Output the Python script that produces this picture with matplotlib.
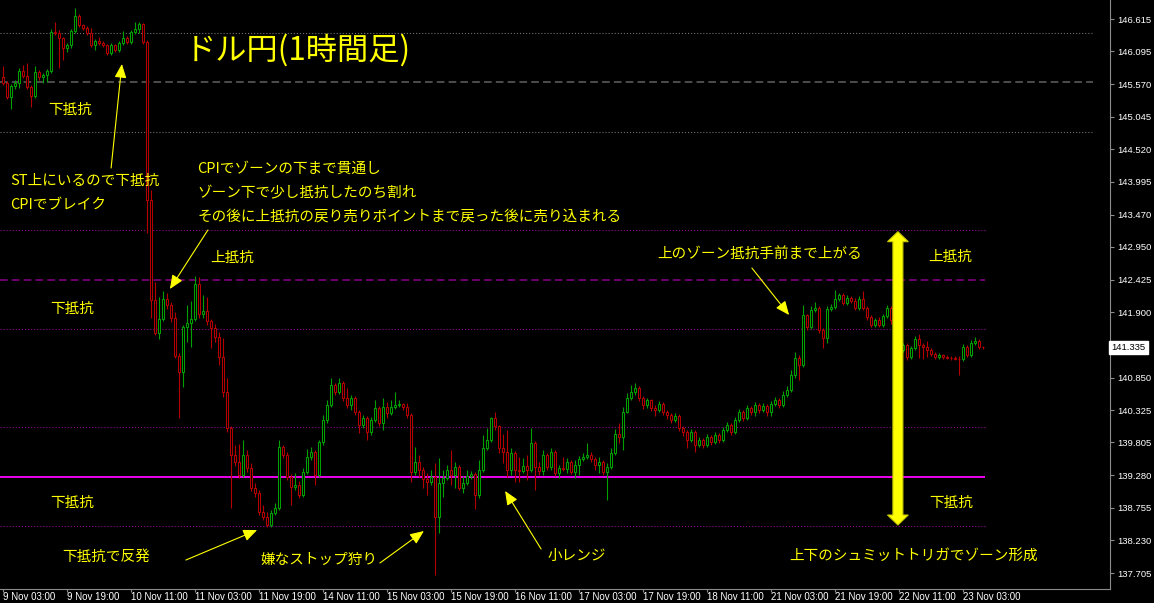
import matplotlib
matplotlib.use("Agg")
import matplotlib.pyplot as plt
from matplotlib.patches import Rectangle, Polygon
from matplotlib.transforms import blended_transform_factory

plt.rcParams['font.family'] = ['Noto Sans CJK JP', 'DejaVu Sans']
plt.rcParams['lines.scale_dashes'] = False

# ---------------- data (USD/JPY, 1 hour) ----------------
time_labels = ["9 Nov 03:00", "9 Nov 19:00", "10 Nov 11:00", "11 Nov 03:00",
               "11 Nov 19:00", "14 Nov 11:00", "15 Nov 03:00", "15 Nov 19:00",
               "16 Nov 11:00", "17 Nov 03:00", "17 Nov 19:00", "18 Nov 11:00",
               "21 Nov 03:00", "21 Nov 19:00", "22 Nov 11:00", "23 Nov 03:00"]
label_every = 16

first_open = 145.68
close = [
    145.59, 145.36, 145.54, 145.59, 145.78, 145.70, 145.52, 145.38, 145.76, 145.68,
    145.71, 145.78, 146.41, 146.39, 146.31, 146.15, 146.20, 146.42, 146.66, 146.52,
    146.47, 146.39, 146.20, 146.26, 146.23, 146.20, 146.07, 146.20, 146.12, 146.23,
    146.31, 146.25, 146.41, 146.45, 146.54, 146.25, 143.70, 142.10, 141.57, 141.79,
    142.11, 142.02, 141.81, 141.20, 140.94, 141.66, 141.73, 141.79, 142.35, 141.87,
    141.92, 141.76, 141.65, 141.50, 141.18, 140.62, 140.04, 139.60, 139.49, 139.28,
    139.60, 139.39, 139.07, 138.99, 138.69, 138.61, 138.48, 138.67, 138.75, 139.73,
    139.60, 139.25, 139.09, 139.12, 138.96, 139.33, 139.57, 139.65, 139.28, 139.81,
    140.17, 140.41, 140.73, 140.62, 140.76, 140.52, 140.41, 140.52, 140.29, 140.09,
    140.20, 139.97, 140.17, 140.36, 140.12, 140.38, 140.28, 140.38, 140.41, 140.42,
    140.38, 140.25, 139.33, 139.49, 139.36, 139.22, 139.17, 139.25, 138.61, 139.15,
    139.23, 139.36, 139.28, 139.41, 139.07, 139.15, 139.27, 139.30, 138.96, 139.36,
    139.72, 139.84, 140.20, 140.07, 139.72, 139.65, 139.36, 139.64, 139.36, 139.35,
    139.43, 139.36, 139.80, 139.41, 139.35, 139.60, 139.41, 139.65, 139.31, 139.39,
    139.38, 139.49, 139.33, 139.44, 139.54, 139.57, 139.60, 139.54, 139.44, 139.49,
    139.33, 139.41, 139.64, 139.94, 139.89, 140.30, 140.52, 140.62, 140.68, 140.52,
    140.41, 140.49, 140.36, 140.33, 140.42, 140.29, 140.25, 140.17, 140.23, 140.04,
    139.97, 139.84, 139.97, 139.76, 139.84, 139.76, 139.89, 139.81, 139.92, 139.84,
    140.00, 140.09, 139.97, 140.17, 140.29, 140.20, 140.36, 140.29, 140.41, 140.33,
    140.39, 140.29, 140.42, 140.49, 140.41, 140.57, 140.65, 140.89, 141.16, 141.05,
    141.85, 141.66, 141.94, 141.97, 141.61, 141.48, 141.95, 141.98, 142.11, 142.18,
    142.05, 142.13, 142.08, 141.97, 142.11, 141.97, 141.82, 141.69, 141.77, 141.69,
    141.84, 141.97, 141.77, 141.53, 141.29, 141.37, 141.18, 141.32, 141.47, 141.37,
    141.34, 141.29, 141.23, 141.18, 141.21, 141.18, 141.17, 141.16, 141.15, 141.14,
    141.34, 141.21, 141.40, 141.44, 141.34, 141.335]
high = [
    145.86, 145.62, 145.57, 145.63, 145.83, 145.88, 145.91, 145.55, 145.86, 145.80,
    145.75, 145.81, 146.45, 146.57, 146.44, 146.33, 146.23, 146.45, 146.79, 146.70,
    146.54, 146.50, 146.47, 146.29, 146.33, 146.26, 146.21, 146.23, 146.21, 146.26,
    146.42, 146.34, 146.44, 146.57, 146.57, 146.55, 146.28, 143.87, 142.39, 142.14,
    142.24, 142.21, 142.06, 141.90, 141.24, 141.69, 142.02, 142.08, 142.48, 142.47,
    142.18, 142.15, 141.79, 141.71, 141.58, 141.49, 140.84, 140.07, 139.76, 139.78,
    139.84, 139.68, 139.47, 139.15, 139.04, 138.80, 138.69, 138.72, 138.83, 139.84,
    139.76, 139.65, 139.30, 139.31, 139.19, 139.39, 139.70, 139.73, 139.68, 139.84,
    140.25, 140.49, 140.84, 140.76, 140.84, 140.79, 140.68, 140.57, 140.55, 140.33,
    140.25, 140.23, 140.22, 140.49, 140.39, 140.52, 140.46, 140.49, 140.62, 140.49,
    140.44, 140.44, 140.28, 139.73, 139.60, 139.41, 139.31, 139.36, 139.47, 139.55,
    139.36, 139.44, 139.68, 139.49, 139.44, 139.27, 139.36, 139.35, 139.33, 139.52,
    139.92, 140.04, 140.22, 140.30, 140.09, 139.94, 140.00, 139.72, 139.67, 139.57,
    139.56, 139.60, 140.04, 139.83, 139.49, 139.68, 139.64, 139.72, 139.68, 139.44,
    139.57, 139.55, 139.52, 139.52, 139.59, 139.64, 139.80, 139.65, 139.57, 139.57,
    139.52, 139.47, 139.72, 140.02, 140.12, 140.38, 140.60, 140.73, 140.76, 140.71,
    140.55, 140.52, 140.50, 140.41, 140.47, 140.46, 140.33, 140.28, 140.28, 140.26,
    140.07, 140.00, 140.02, 140.00, 139.89, 139.88, 139.94, 139.92, 139.97, 139.96,
    140.05, 140.14, 140.12, 140.22, 140.34, 140.33, 140.41, 140.39, 140.46, 140.44,
    140.44, 140.42, 140.47, 140.54, 140.52, 140.63, 140.71, 140.97, 141.26, 141.21,
    142.02, 141.87, 142.00, 142.06, 142.00, 141.65, 142.00, 142.03, 142.26, 142.21,
    142.21, 142.18, 142.16, 142.13, 142.16, 142.24, 142.00, 141.85, 141.81, 141.82,
    141.87, 142.02, 142.00, 141.81, 141.56, 141.40, 141.40, 141.36, 141.52, 141.55,
    141.40, 141.44, 141.32, 141.26, 141.24, 141.23, 141.21, 141.19, 141.19, 141.19,
    141.39, 141.37, 141.45, 141.50, 141.47, 141.36]
low = [
    145.55, 145.33, 145.17, 145.49, 145.51, 145.67, 145.49, 145.20, 145.34, 145.63,
    145.59, 145.60, 145.75, 146.36, 145.83, 145.96, 146.08, 146.15, 146.39, 146.49,
    146.44, 146.36, 146.16, 146.12, 146.20, 146.16, 146.04, 146.04, 146.08, 146.08,
    146.20, 146.21, 146.21, 146.37, 146.39, 146.21, 143.17, 141.81, 141.53, 141.47,
    141.76, 141.95, 141.74, 141.16, 140.20, 140.70, 141.42, 141.34, 141.76, 141.81,
    141.81, 141.69, 141.32, 141.42, 141.05, 140.54, 139.97, 138.75, 139.43, 139.23,
    139.25, 139.33, 139.02, 138.93, 138.64, 138.56, 138.45, 138.45, 138.64, 138.72,
    139.56, 139.20, 138.80, 139.04, 138.91, 138.93, 139.30, 139.52, 139.12, 139.25,
    139.76, 140.12, 140.38, 140.57, 140.58, 140.47, 140.36, 140.33, 140.25, 139.96,
    140.04, 139.84, 139.92, 140.14, 140.07, 140.00, 140.20, 140.25, 140.34, 140.38,
    140.33, 140.20, 139.17, 139.28, 139.25, 139.07, 138.96, 139.12, 137.67, 138.35,
    138.93, 139.20, 139.12, 139.07, 139.04, 138.99, 139.12, 139.22, 138.73, 138.91,
    139.33, 139.68, 139.81, 140.00, 139.64, 139.47, 139.25, 139.28, 139.17, 139.17,
    139.31, 139.20, 139.33, 139.04, 139.28, 139.28, 139.36, 139.36, 139.27, 139.23,
    139.35, 139.31, 139.30, 139.23, 139.28, 139.51, 139.54, 139.49, 139.36, 139.31,
    139.28, 138.88, 139.38, 139.60, 139.80, 139.68, 140.28, 140.49, 140.57, 140.47,
    140.34, 140.36, 140.31, 140.23, 140.29, 140.25, 140.18, 140.12, 140.14, 139.99,
    139.91, 139.72, 139.81, 139.65, 139.73, 139.72, 139.73, 139.76, 139.78, 139.80,
    139.81, 139.97, 139.92, 139.94, 140.14, 140.15, 140.17, 140.25, 140.23, 140.28,
    140.29, 140.23, 140.23, 140.39, 140.36, 140.38, 140.54, 140.62, 140.84, 140.81,
    141.02, 141.61, 141.63, 141.90, 141.56, 141.32, 141.40, 141.92, 141.95, 142.08,
    142.02, 142.02, 142.05, 141.94, 141.94, 141.94, 141.77, 141.66, 141.66, 141.66,
    141.66, 141.81, 141.71, 141.49, 141.24, 141.26, 141.13, 141.15, 141.29, 141.16,
    141.15, 141.18, 141.20, 141.15, 141.15, 141.15, 141.15, 141.13, 141.13, 140.89,
    141.11, 141.18, 141.18, 141.37, 141.31, 141.31]
opens = [first_open] + close[:-1]

price_ticks = [146.615, 146.095, 145.570, 145.045, 144.520, 143.995, 143.470,
               142.950, 142.425, 141.900, 140.850, 140.325, 139.805, 139.280,
               138.755, 138.230, 137.705]
current_price = 141.335

# zone lines (price levels)
gray_dotted = [146.39, 144.80]
gray_dashed = [145.60]
purple_dotted = [143.215, 141.63, 140.05, 138.46]
purple_dashed = [142.42]
magenta_solid = [139.25]
zone_top, zone_bottom = 143.195, 138.478

# ---------------- figure ----------------
W, H = 1154, 603
fig = plt.figure(figsize=(W / 100, H / 100), dpi=100, facecolor="black")
ax = fig.add_axes([0, 14 / H, 1110 / W, 589 / H])
ax.set_facecolor("black")

bar_px = 4.0
x0_px = 2.7
ax.set_xlim(-x0_px / bar_px, (1110 - x0_px) / bar_px)
ppx = 0.016082
ax.set_ylim(146.921 - 589 * ppx, 146.921)

n = len(close)
assert len(high) == n and len(low) == n
last_x = n - 1 + 0.5

# zone lines
for lv in gray_dotted:
    ax.hlines(lv, ax.get_xlim()[0], 272.5, colors="#707070", lw=0.8,
              linestyles=(0, (0.8, 1.4)), zorder=1)
for lv in gray_dashed:
    ax.hlines(lv, ax.get_xlim()[0], 272.5, colors="#5a5a5a", lw=1.2,
              linestyles=(0, (5.5, 3)), zorder=1)
for lv in purple_dotted:
    ax.hlines(lv, ax.get_xlim()[0], last_x, colors="#8a0a8a", lw=0.8,
              linestyles=(0, (0.8, 1.4)), zorder=1)
for lv in purple_dashed:
    ax.hlines(lv, ax.get_xlim()[0], last_x, colors="#800080", lw=1.2,
              linestyles=(0, (5.5, 3)), zorder=1)
for lv in magenta_solid:
    ax.hlines(lv, ax.get_xlim()[0], last_x, colors="#ff00ff", lw=1.3, zorder=1)

# candles
green, red = "#00a000", "#b40000"
bw = 0.55
for i in range(n):
    o, c, h, l = opens[i], close[i], high[i], low[i]
    col = green if c > o else red
    ax.vlines(i, l, h, colors=col, lw=0.8, zorder=3)
    bot, top = min(o, c), max(o, c)
    ax.add_patch(Rectangle((i - bw / 2, bot), bw, max(top - bot, 0.004),
                           facecolor="black", edgecolor=col, lw=0.75, zorder=4))

# big double-headed yellow arrow
cx = 223.8
sw, hw, hl = 1.25, 2.6, 10 * ppx
pts = [(cx, zone_top), (cx + hw, zone_top - hl), (cx + sw, zone_top - hl),
       (cx + sw, zone_bottom + hl), (cx + hw, zone_bottom + hl), (cx, zone_bottom),
       (cx - hw, zone_bottom + hl), (cx - sw, zone_bottom + hl),
       (cx - sw, zone_top - hl), (cx - hw, zone_top - hl)]
ax.add_patch(Polygon(pts, closed=True, facecolor="#ffff00", edgecolor="#c8c800",
                     lw=0.8, zorder=6))

# texts
yel = "#ffff00"
fs = 10.5
ax.text(45.6, 146.12, "ドル円(1時間足)", color=yel, fontsize=22.5, va="center",
        ha="left", zorder=7)
texts = [
    (11.3, 145.15, "下抵抗"),
    (1.8, 144.01, "ST上にいるので下抵抗"),
    (1.8, 143.61, "CPIでブレイク"),
    (48.6, 144.20, "CPIでゾーンの下まで貫通し"),
    (48.8, 143.82, "ゾーン下で少し抵抗したのち割れ"),
    (48.8, 143.43, "その後に上抵抗の戻り売りポイントまで戻った後に売り込まれる"),
    (51.8, 142.77, "上抵抗"),
    (11.8, 141.95, "下抵抗"),
    (163.6, 142.84, "上のゾーン抵抗手前まで上がる"),
    (231.3, 142.79, "上抵抗"),
    (11.8, 138.83, "下抵抗"),
    (231.6, 138.83, "下抵抗"),
    (14.8, 137.96, "下抵抗で反発"),
    (64.5, 137.91, "嫌なストップ狩り"),
    (136.3, 137.98, "小レンジ"),
    (196.6, 137.99, "上下のシュミットトリガでゾーン形成"),
]
for x, y, s in texts:
    ax.text(x, y, s, color=yel, fontsize=fs, va="center", ha="left", zorder=7)

arrows = [
    ((27.1, 144.219), (29.8, 145.892)),
    ((51.3, 143.222), (41.8, 142.273)),
    ((187.3, 142.611), (196.6, 141.855)),
    ((45.8, 137.915), (63.6, 138.397)),
    ((94.3, 137.867), (105.3, 138.381)),
    ((134.6, 138.092), (125.6, 139.025)),
]
for tail, head in arrows:
    ax.annotate("", xy=head, xytext=tail,
                arrowprops=dict(arrowstyle="-|>,head_length=0.7,head_width=0.3",
                                color=yel, lw=0.8, mutation_scale=12,
                                shrinkA=0, shrinkB=0), zorder=7)

# axes styling
for s in ["left", "top"]:
    ax.spines[s].set_visible(False)
for s in ["right", "bottom"]:
    ax.spines[s].set_color("#8c8c8c")
    ax.spines[s].set_linewidth(0.8)

ax.yaxis.tick_right()
ax.set_yticks(price_ticks)
ax.set_yticklabels([f"{p:.3f}" for p in price_ticks], fontfamily="Liberation Sans",
                   fontsize=6.8, color="white")
ax.tick_params(axis="y", colors="#8c8c8c", length=3, width=0.8, pad=2,
               labelcolor="white")

xt = list(range(0, label_every * len(time_labels), label_every))
ax.set_xticks(xt)
ax.set_xticklabels(time_labels, fontfamily="Liberation Sans", fontsize=7,
                   color="white", ha="left")
ax.tick_params(axis="x", colors="#8c8c8c", length=2, width=0.8, pad=0.5,
               labelcolor="white")

# current price box
tr = blended_transform_factory(ax.transAxes, ax.transData)
ax.text(1.0 + 1.5 / 1110, current_price, f"{current_price:.3f}", transform=tr,
        fontfamily="Liberation Sans", fontsize=6.8, color="black", va="center",
        ha="left", zorder=10, clip_on=False,
        bbox=dict(facecolor="white", edgecolor="white", pad=1.6))

fig.savefig("out.png", dpi=100, facecolor="black")
